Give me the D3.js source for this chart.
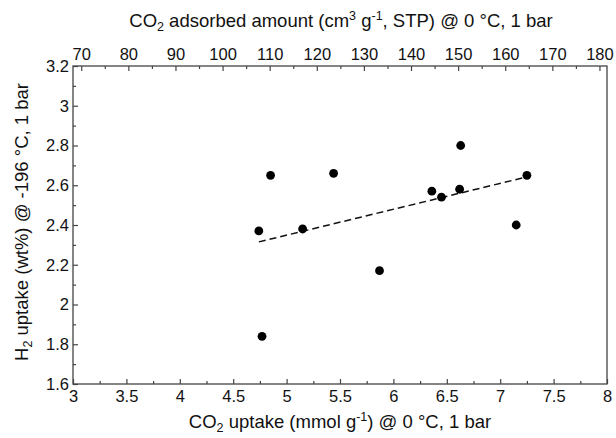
<!DOCTYPE html>
<html><head><meta charset="utf-8">
<script src="https://cdn.jsdelivr.net/npm/d3@7"></script>
<style>body{margin:0;background:#fff}svg{display:block}text{font-family:"Liberation Sans",Arial,sans-serif;fill:#111}</style>
</head><body><svg id="c" width="616" height="438"></svg>
<script>
const co2Uptake = [4.74, 4.85, 5.15, 5.44, 6.36, 6.45, 6.63, 6.62, 7.25, 7.15, 5.87, 4.77];
const h2Uptake  = [2.37, 2.65, 2.38, 2.66, 2.57, 2.54, 2.80, 2.58, 2.65, 2.40, 2.17, 1.84];
const fitX = [4.74, 7.25];
const fitY = [2.315, 2.642];
const xTicks = [3, 3.5, 4, 4.5, 5, 5.5, 6, 6.5, 7, 7.5, 8];
const yTicks = [1.6, 1.8, 2, 2.2, 2.4, 2.6, 2.8, 3, 3.2];
const topTicks = [70, 80, 90, 100, 110, 120, 130, 140, 150, 160, 170, 180];

const svg = d3.select("#c");
const L = 73, R = 607, T = 66, B = 384;
const x = d3.scaleLinear().domain([3, 8]).range([L, R]);
const x2 = d3.scaleLinear().domain([68.25, 181.6]).range([L, R]);
const y = d3.scaleLinear().domain([1.6, 3.2]).range([B, T]);

const axColor = "#444";
const fs = 16.5;
function style(g, labels) {
  g.select(".domain").remove();
  g.selectAll(".tick line").attr("stroke", axColor).attr("stroke-width", 1.2);
  g.selectAll(".tick text").attr("font-size", fs).attr("font-family", "Liberation Sans, Arial, sans-serif").attr("fill", "#111");
  if (!labels) g.selectAll(".tick text").remove();
}
const minorX = d3.range(12).map(i => 3.25 + i * 0.5).filter(v => v < 8);
const minorY = d3.range(8).map(i => 1.7 + i * 0.2);
const minorTop = d3.range(11).map(i => 75 + i * 10);

// bottom
svg.append("g").attr("transform", `translate(0,${B})`)
  .call(d3.axisBottom(x).tickValues(xTicks).tickFormat(d3.format("")).tickSize(-5).tickPadding(6))
  .call(g => style(g, true));
svg.append("g").attr("transform", `translate(0,${B})`)
  .call(d3.axisBottom(x).tickValues(minorX).tickSize(-3)).call(g => style(g, false));
// top
svg.append("g").attr("transform", `translate(0,${T})`)
  .call(d3.axisTop(x2).tickValues(topTicks).tickFormat(d3.format("")).tickSize(-5).tickPadding(6))
  .call(g => style(g, true));
svg.append("g").attr("transform", `translate(0,${T})`)
  .call(d3.axisTop(x2).tickValues(minorTop).tickSize(-3)).call(g => style(g, false));
// left
svg.append("g").attr("transform", `translate(${L},0)`)
  .call(d3.axisLeft(y).tickValues(yTicks).tickFormat(d3.format("")).tickSize(-5).tickPadding(4))
  .call(g => style(g, true));
svg.append("g").attr("transform", `translate(${L},0)`)
  .call(d3.axisLeft(y).tickValues(minorY).tickSize(-3)).call(g => style(g, false));

// frame
svg.append("rect").attr("x", L).attr("y", T).attr("width", R - L).attr("height", B - T)
  .attr("fill", "none").attr("stroke", axColor).attr("stroke-width", 1.3);

// fit line
svg.append("line")
  .attr("x1", x(fitX[0])).attr("y1", y(fitY[0])).attr("x2", x(fitX[1])).attr("y2", y(fitY[1]))
  .attr("stroke", "#111").attr("stroke-width", 1.5).attr("stroke-dasharray", "7,4");

// points
svg.append("g").selectAll("circle").data(co2Uptake).join("circle")
  .attr("cx", d => x(d)).attr("cy", (d, i) => y(h2Uptake[i])).attr("r", 4.4).attr("fill", "#000");

// titles
const tfs = 18.5, sfs = 12.5;
const bt = svg.append("text").attr("x", 340).attr("y", 428).attr("text-anchor", "middle").attr("font-size", tfs);
bt.append("tspan").text("CO");
bt.append("tspan").text("2").attr("font-size", sfs).attr("dy", 4);
bt.append("tspan").text(" uptake (mmol g").attr("dy", -4);
bt.append("tspan").text("-1").attr("font-size", sfs).attr("dy", -7);
bt.append("tspan").text(") @ 0 °C, 1 bar").attr("dy", 7);

const tt = svg.append("text").attr("x", 341).attr("y", 27).attr("text-anchor", "middle").attr("font-size", tfs);
tt.append("tspan").text("CO");
tt.append("tspan").text("2").attr("font-size", sfs).attr("dy", 4);
tt.append("tspan").text(" adsorbed amount (cm").attr("dy", -4);
tt.append("tspan").text("3").attr("font-size", sfs).attr("dy", -7);
tt.append("tspan").text(" g").attr("dy", 7);
tt.append("tspan").text("-1").attr("font-size", sfs).attr("dy", -7);
tt.append("tspan").text(", STP) @ 0 °C, 1 bar").attr("dy", 7);

const lt = svg.append("text").attr("transform", `translate(28,222) rotate(-90)`).attr("text-anchor", "middle").attr("font-size", tfs);
lt.append("tspan").text("H");
lt.append("tspan").text("2").attr("font-size", sfs).attr("dy", 4);
lt.append("tspan").text(" uptake (wt%) @ -196 °C, 1 bar").attr("dy", -4);
</script></body></html>
